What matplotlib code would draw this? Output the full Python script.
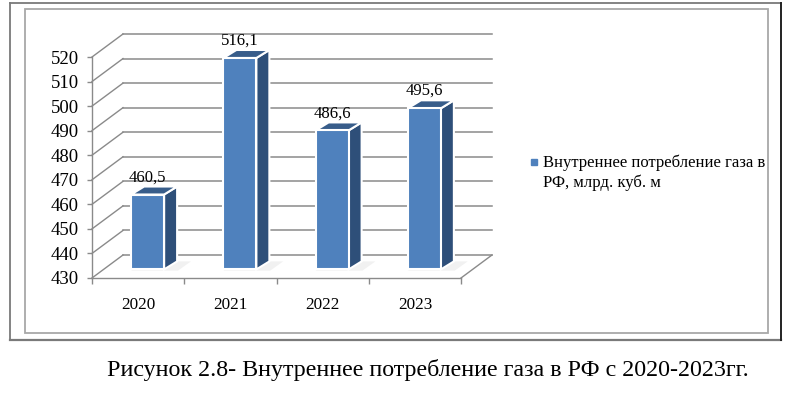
import matplotlib.pyplot as plt
from matplotlib.patches import Polygon, Rectangle
from matplotlib.lines import Line2D

years = ['2020', '2021', '2022', '2023']
values = [460.5, 516.1, 486.6, 495.6]
value_labels = ['460,5', '516,1', '486,6', '495,6']
yticks = [430, 440, 450, 460, 470, 480, 490, 500, 510, 520]
legend_lines = ['Внутреннее потребление газа в', 'РФ, млрд. куб. м']
caption = 'Рисунок 2.8- Внутреннее потребление газа в РФ с 2020-2023гг.'

plt.rcParams['font.family'] = ['Liberation Serif', 'DejaVu Serif']

W, H = 800, 396
fig = plt.figure(figsize=(W / 100, H / 100), dpi=100)
fig.patch.set_facecolor('white')

# front plane of the plot, in pixels: x 92..461, y 57 (520) .. 278 (430)
ax = fig.add_axes([92 / W, 1 - 278 / H, 369 / W, 221 / H])
ax.set_xlim(-0.5, 3.5)
ax.set_ylim(430, 520)
ax.patch.set_alpha(0)

grid_c = '#8a8a8a'
px_x = 369 / 4          # pixels per category
px_y = 221 / 90         # pixels per unit
DX = 31 / px_x          # wall depth
DY = 23 / px_y

# back wall gridlines + left wall diagonals
for v in yticks:
    ax.plot([-0.5 + DX, 3.5 + DX], [v + DY, v + DY], color=grid_c, lw=1.1,
            clip_on=False, zorder=1)
    ax.plot([-0.5, -0.5 + DX], [v, v + DY], color=grid_c, lw=1.0,
            clip_on=False, zorder=1)
# floor right edge
ax.plot([3.5, 3.5 + DX], [430, 430 + DY], color=grid_c, lw=1.0, clip_on=False, zorder=1)

# bars
front_c, side_c, top_c = '#4F81BD', '#2E4F79', '#385D8A'
fdx, fdy = 9.5 / px_x, 3.5       # front face shift into depth
bdx, bdy = 13 / px_x, 8 / px_y   # bar depth
w = 33 / px_x
base = 430 + fdy
for i, v in enumerate(values):
    xl = i + fdx - w / 2
    xr = i + fdx + w / 2
    top = v + fdy
    # faint floor shadow
    ax.add_patch(Polygon([(xl, base - 0.5), (xr + 0.15, base - 0.5),
                          (xr + 0.15 + bdx, base + bdy), (xl + bdx, base + bdy)],
                         closed=True, facecolor='#e8e8e8', edgecolor='none',
                         alpha=0.6, zorder=2, clip_on=False))
    ax.add_patch(Polygon([(xr, base), (xr + bdx, base + bdy), (xr + bdx, top + bdy), (xr, top)],
                         closed=True, facecolor=side_c, edgecolor='white', lw=1.5,
                         zorder=3, clip_on=False))
    ax.add_patch(Polygon([(xl, top), (xr, top), (xr + bdx, top + bdy), (xl + bdx, top + bdy)],
                         closed=True, facecolor=top_c, edgecolor='white', lw=1.5,
                         zorder=3, clip_on=False))
    ax.add_patch(Rectangle((xl, base), w, v - 430, facecolor=front_c,
                           edgecolor='white', lw=1.5, zorder=4, clip_on=False))
    ax.text(i + fdx, top + 7, value_labels[i], ha='center', va='center',
            fontsize=12, color='black', zorder=5, clip_on=False)

# axes
for s in ['top', 'right']:
    ax.spines[s].set_visible(False)
for s in ['left', 'bottom']:
    ax.spines[s].set_color(grid_c)
    ax.spines[s].set_linewidth(1.0)
ax.set_yticks(yticks)
ax.tick_params(axis='y', direction='out', length=3.6, width=1, color=grid_c,
               pad=6, labelsize=13.5, labelcolor='black')
ax.set_xticks([-0.5, 0.5, 1.5, 2.5, 3.5])
ax.set_xticklabels([])
ax.tick_params(axis='x', which='major', direction='out', length=4.3, width=1,
               color=grid_c)
ax.set_xticks(range(len(years)), minor=True)
ax.set_xticklabels(years, minor=True)
ax.tick_params(axis='x', which='minor', length=0, pad=13.5, labelsize=12.3,
               labelcolor='black')

# legend
fig.add_artist(Line2D([534 / W], [1 - 162 / H], marker='s', markersize=4,
                      color=front_c, linestyle='none', transform=fig.transFigure))
for k, line in enumerate(legend_lines):
    fig.text(543 / W, 1 - (163 + 20 * k) / H, line, ha='left', va='center',
             fontsize=12, color='black')

# frames
inner = Rectangle((25 / W, 1 - 333 / H), (768 - 25) / W, (333 - 9) / H,
                  transform=fig.transFigure, fill=False, edgecolor='#a8a8a8', lw=1.3)
fig.add_artist(inner)
outer_g = '#7a7a7a'
fig.add_artist(Line2D([9.5 / W, 9.5 / W], [1 - 2.5 / H, 1 - 340 / H], color=outer_g, lw=1.3,
                      transform=fig.transFigure))
fig.add_artist(Line2D([9.5 / W, 780.5 / W], [1 - 2.5 / H, 1 - 2.5 / H], color=outer_g, lw=1.3,
                      transform=fig.transFigure))
fig.add_artist(Line2D([9.5 / W, 780.5 / W], [1 - 340 / H, 1 - 340 / H], color=outer_g, lw=1.6,
                      transform=fig.transFigure))
fig.add_artist(Line2D([780.5 / W, 780.5 / W], [1 - 2.5 / H, 1 - 340 / H], color='#222222', lw=1.4,
                      transform=fig.transFigure))

fig.text(428 / W, 1 - 370 / H, caption, ha='center', va='center', fontsize=17.3,
         color='black')

fig.savefig('out.png', dpi=100)
